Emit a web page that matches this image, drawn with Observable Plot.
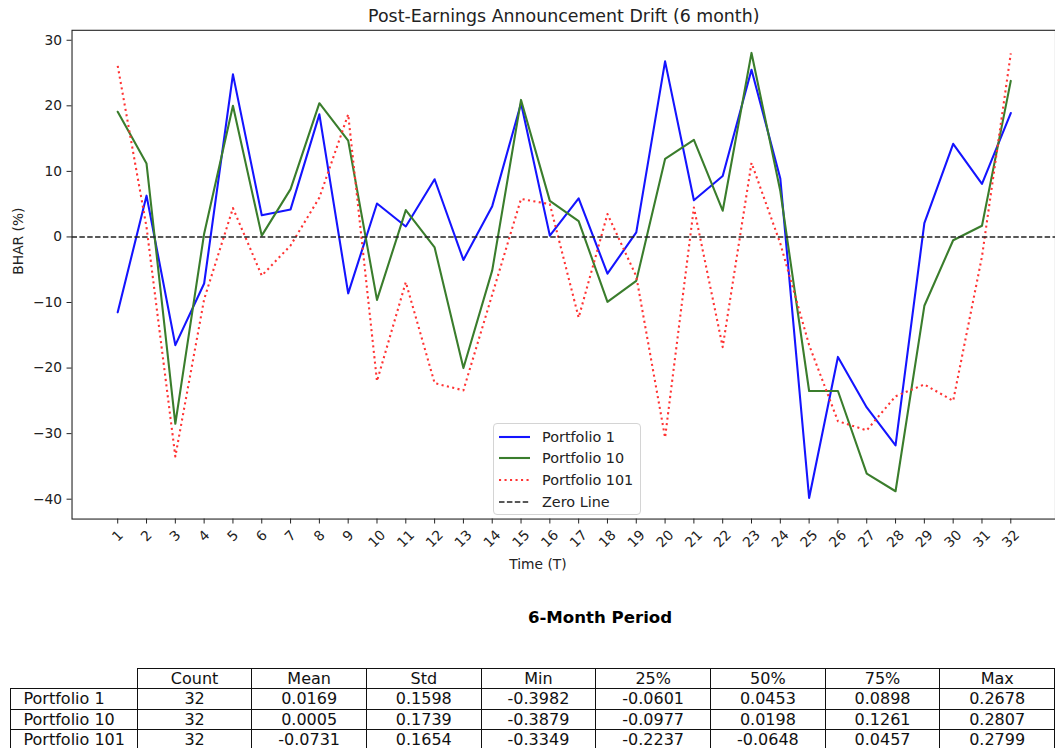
<!DOCTYPE html>
<html><head><meta charset="utf-8">
<script src="https://cdn.jsdelivr.net/npm/d3@7"></script>
<script src="https://cdn.jsdelivr.net/npm/@observablehq/plot@0.6"></script>
<style>
html,body{margin:0;padding:0;background:#fff;}
body{width:1055px;height:748px;overflow:hidden;position:relative;font-family:"DejaVu Sans",sans-serif;color:#000;}
#chart{position:absolute;left:0;top:0;}
#legend{position:absolute;left:493px;top:423px;width:148px;height:92px;border:1px solid #d4d4d4;border-radius:4px;background:rgba(255,255,255,0.85);box-sizing:border-box;font-size:14.4px;}
.lg-row{position:absolute;left:0;width:100%;height:22px;}
.lg-row svg{position:absolute;left:5px;top:0;}
.lg-row span{position:absolute;left:48px;top:0;line-height:22px;white-space:nowrap;color:#222;}
#ttl{position:absolute;left:0;width:1200px;top:606px;text-align:center;font-weight:bold;font-size:16.6px;line-height:24px;}
#tbl{position:absolute;left:9.5px;top:668px;}
#tbl table{border-collapse:collapse;table-layout:fixed;font-size:16px;color:#111;}
#tbl td{border:1px solid #111;height:19.3px;padding:0;line-height:19px;text-align:center;white-space:nowrap;overflow:hidden;}
#tbl td.lab{text-align:left;padding-left:13px;}
#tbl td.blank{border:none;}
</style>
</head><body>
<div id="chart"></div>
<div id="legend"></div>
<div id="ttl">6-Month Period</div>
<div id="tbl"></div>
<script>
// ---- data ----
const periods = [1,2,3,4,5,6,7,8,9,10,11,12,13,14,15,16,17,18,19,20,21,22,23,24,25,26,27,28,29,30,31,32];
const portfolio1 = [-11.5, 6.3, -16.5, -7.1, 24.8, 3.3, 4.2, 18.7, -8.6, 5.1, 1.6, 8.8, -3.5, 4.7, 20.4, 0.2, 5.9, -5.6, 0.7, 26.78, 5.6, 9.3, 25.5, 8.9, -39.82, -18.3, -26.0, -31.8, 2.1, 14.2, 8.1, 18.9];
const portfolio10 = [19.1, 11.2, -28.5, 0.5, 20.0, 0.2, 7.3, 20.4, 14.7, -9.6, 4.1, -1.6, -20.0, -5.1, 20.9, 5.5, 2.4, -9.9, -6.7, 11.9, 14.8, 4.0, 28.07, 7.0, -23.5, -23.5, -36.1, -38.79, -10.5, -0.5, 1.7, 23.8];
const portfolio101 = [26.1, 1.5, -33.49, -9.5, 4.4, -5.9, -1.3, 6.0, 18.7, -22.0, -6.9, -22.3, -23.4, -8.8, 5.8, 5.0, -12.3, 3.5, -6.0, -30.6, 4.5, -16.8, 11.3, -1.0, -16.5, -28.1, -29.5, -24.3, -22.5, -25.0, -3.0, 27.99];
const yTicks = [-40, -30, -20, -10, 0, 10, 20, 30];
const seriesNames = ["Portfolio 1", "Portfolio 10", "Portfolio 101", "Zero Line"];
const statCols = ["Count", "Mean", "Std", "Min", "25%", "50%", "75%", "Max"];
const statRows = ["Portfolio 1", "Portfolio 10", "Portfolio 101"];
const statP1 = ["32", "0.0169", "0.1598", "-0.3982", "-0.0601", "0.0453", "0.0898", "0.2678"];
const statP10 = ["32", "0.0005", "0.1739", "-0.3879", "-0.0977", "0.0198", "0.1261", "0.2807"];
const statP101 = ["32", "-0.0731", "0.1654", "-0.3349", "-0.2237", "-0.0648", "0.0457", "0.2799"];

// ---- styles ----
const styles = [
  {color: "#1414ff", width: 2.1, dash: null},
  {color: "#3a7d2c", width: 2.1, dash: null},
  {color: "#ff3333", width: 2.1, dash: "2.1,3.4"},
  {color: "#222", width: 1.5, dash: "5.5,2.4"}
];

const rows = periods.map((t, i) => ({t, p1: portfolio1[i], p10: portfolio10[i], p101: portfolio101[i]}));
const fmt = d => (d < 0 ? "\u2212" : "") + Math.abs(d);

const chart = Plot.plot({
  width: 1062, height: 590,
  marginLeft: 72, marginRight: 0, marginTop: 30, marginBottom: 68,
  style: {fontFamily: "DejaVu Sans", fontSize: "13.9px", color: "#222", background: "transparent", overflow: "visible"},
  x: {type: "linear", domain: [-0.586, 33.552]},
  y: {domain: [-43.03, 31.52]},
  marks: [
    Plot.line(rows, {x: "t", y: "p1", stroke: styles[0].color, strokeWidth: styles[0].width}),
    Plot.line(rows, {x: "t", y: "p10", stroke: styles[1].color, strokeWidth: styles[1].width}),
    Plot.line(rows, {x: "t", y: "p101", stroke: styles[2].color, strokeWidth: styles[2].width, strokeDasharray: styles[2].dash, strokeLinecap: "butt"}),
    Plot.ruleY([0], {stroke: styles[3].color, strokeWidth: styles[3].width, strokeDasharray: styles[3].dash}),
    Plot.frame({stroke: "#222", strokeWidth: 1.1}),
    Plot.axisY({ticks: yTicks, tickSize: 5, tickPadding: 5, tickFormat: fmt, label: null}),
    Plot.axisX({ticks: periods, tickSize: 5, tickFormat: () => "", label: null}),
    Plot.text(periods.filter(t => t < 10), {x: d => d, text: d => String(d), frameAnchor: "bottom", lineAnchor: "middle", dy: 17, rotate: -45, fill: "#222"}),
    Plot.text(periods.filter(t => t >= 10), {x: d => d, text: d => String(d), frameAnchor: "bottom", lineAnchor: "middle", dy: 20, rotate: -45, fill: "#222"}),
    Plot.text(["Post-Earnings Announcement Drift (6 month)"], {frameAnchor: "top", lineAnchor: "middle", dy: -14, fontSize: 17.5, fill: "#222"}),
    Plot.text(["Time (T)"], {frameAnchor: "bottom", lineAnchor: "middle", dy: 46, dx: -26, fill: "#222"}),
    Plot.text(["BHAR (%)"], {frameAnchor: "left", dx: -54, rotate: -90, fill: "#222"})
  ]
});
document.getElementById("chart").appendChild(chart);

// ---- legend ----
const lg = document.getElementById("legend");
seriesNames.forEach((name, i) => {
  const s = styles[i];
  const row = document.createElement("div");
  row.className = "lg-row";
  row.style.top = (1.7 + 21.7 * i) + "px";
  row.innerHTML = `<svg width="32" height="22"><line x1="0" x2="31" y1="11" y2="11" stroke="${s.color}" stroke-width="${s.width}" ${s.dash ? `stroke-dasharray="${s.dash}"` : ""} stroke-linecap="butt"/></svg><span>${name}</span>`;
  lg.appendChild(row);
});

// ---- table ----
const statValues = [statP1, statP10, statP101];
let html = '<table><colgroup><col style="width:127.5px">' + statCols.map(() => '<col style="width:115.5px">').join("") + '</colgroup>';
html += '<tr><td class="blank"></td>' + statCols.map(c => `<td>${c}</td>`).join("") + '</tr>';
statRows.forEach((r, i) => {
  html += `<tr><td class="lab">${r}</td>` + statValues[i].map(v => `<td>${v}</td>`).join("") + '</tr>';
});
html += '</table>';
document.getElementById("tbl").innerHTML = html;
</script>
</body></html>
